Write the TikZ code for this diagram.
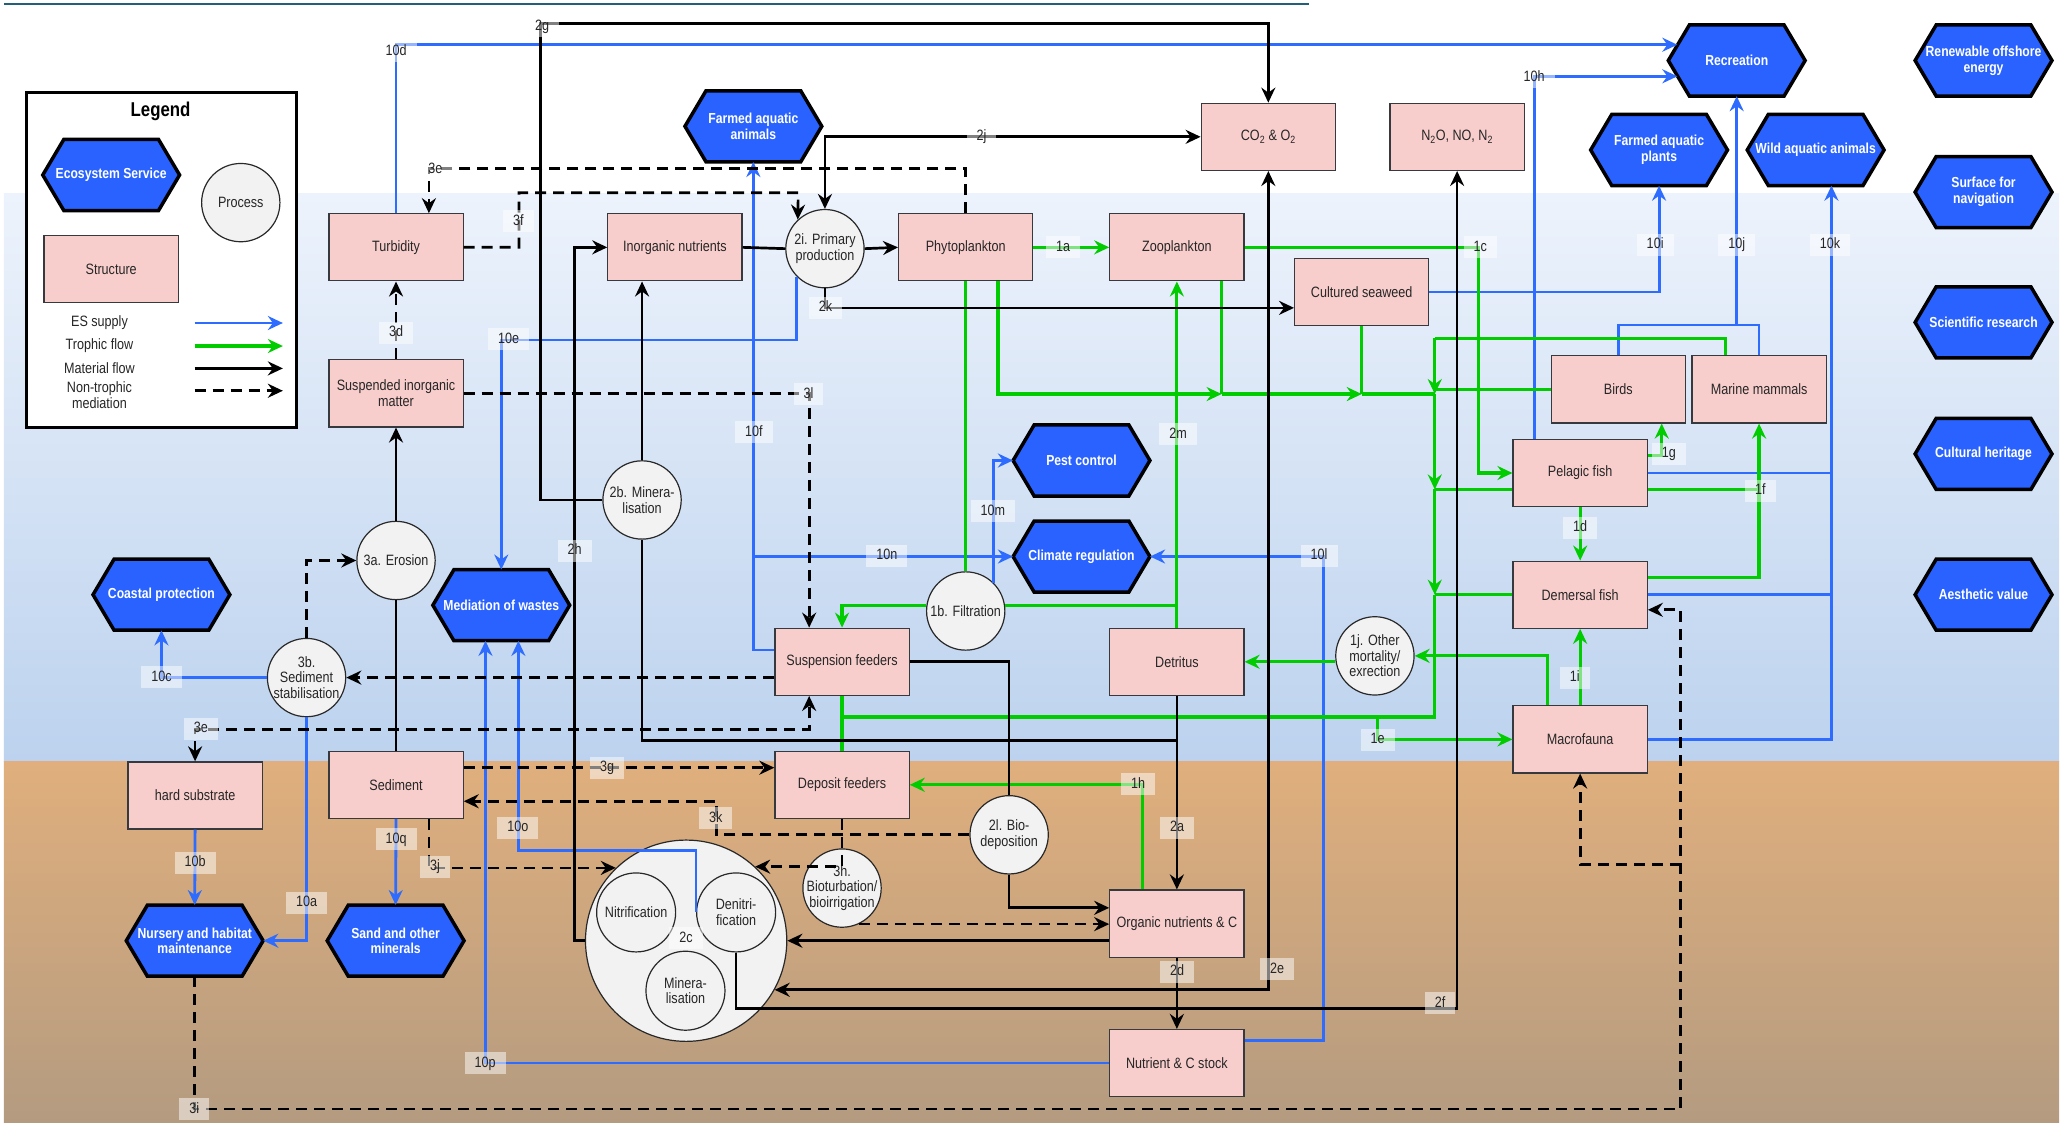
\documentclass[tikz,border=0pt]{standalone}
\usepackage{fontspec}
\setmainfont{Liberation Sans}[FakeStretch=0.84]
\usetikzlibrary{arrows.meta,calc}

\definecolor{esblue}{RGB}{41,98,255}
\definecolor{esline}{RGB}{45,108,255}
\definecolor{trgreen}{RGB}{0,204,0}
\definecolor{boxpink}{RGB}{248,206,204}
\definecolor{boxedge}{RGB}{54,57,61}
\definecolor{procfill}{RGB}{242,242,242}
\definecolor{procedge}{RGB}{40,40,40}
\definecolor{watertop}{RGB}{237,243,252}
\definecolor{waterbot}{RGB}{188,210,238}
\definecolor{sedtop}{RGB}{224,175,125}
\definecolor{sedbot}{RGB}{180,155,128}
\definecolor{toprule}{RGB}{35,95,120}

\newcommand\diagfont{\fontsize{15pt}{15.7pt}\selectfont}
\newcommand\eshexfont{\fontsize{14.5pt}{15.7pt}\selectfont\bfseries}

% ecosystem-service hexagon: name, x, y, text
\newcommand\eshexagon[4]{%
  \path[hexfill] (#2-52,#3) -- (#2-36,#3-27) -- (#2+36,#3-27) -- (#2+52,#3)
    -- (#2+36,#3+27) -- (#2-36,#3+27) -- cycle;
  \node[hextext] (#1) at (#2,#3) {#4};}

\tikzset{
  >={Stealth[length=15pt,width=14pt,inset=5pt]},
  txt/.style={font=\diagfont, text=black!85},
  struct/.style={txt, draw=boxedge, line width=1.2pt, fill=boxpink,
    minimum width=134.2pt, minimum height=67.1pt, inner sep=1pt, align=center},
  proc/.style={txt, circle, draw=procedge, line width=1.2pt, fill=procfill,
    minimum size=78.3pt, inner sep=-6pt, align=center},
  hextext/.style={font=\eshexfont, text=white, minimum width=136.8pt,
    minimum height=71pt, inner sep=0pt, align=center},
  hexfill/.style={fill=esblue, draw=black, line width=3.5pt, line join=miter},
  es/.style={draw=esline, line width=2.8pt, ->},
  tro/.style={draw=trgreen, line width=3.2pt, ->},
  mat/.style={draw=black, line width=2.7pt, ->},
  ntm/.style={draw=black, line width=2.7pt, dash pattern=on 11pt off 7pt, ->},
  lbl/.style={txt, fill=white, fill opacity=0.5, text opacity=1,
    inner xsep=10pt, inner ysep=4pt, text height=11pt, text depth=3pt},
}

\begin{document}
\begin{tikzpicture}[x=1.3157pt, y=-1.3157pt]
\useasboundingbox (0,0) rectangle (1568,855);
\fill[white] (0,0) rectangle (1568,855);

% water column and seabed
\shade[top color=watertop, bottom color=waterbot] (3,147) rectangle (1565,579);
\shade[top color=sedtop, bottom color=sedbot] (3,579) rectangle (1565,853);
\draw[toprule, line width=1.6pt] (3,3) -- (995,3);

% ---------------- legend ----------------
\node[draw=black, line width=3pt, fill=white, minimum width=269.7pt,
      minimum height=335.5pt] (legend) at (122.5,197.5) {};
\node[font=\fontsize{20pt}{22pt}\selectfont\bfseries] (legtitle) at (122,85) {Legend};
\eshexagon{legES}{84.5}{133}{Ecosystem Service}
\node[proc] (legproc) at (183,154) {Process};
\node[struct] (legstruct) at (84.5,204.5) {Structure};
\node[txt] (legt1) at (75.6,245.5) {ES supply};
\node[txt] (legt2) at (75.6,263) {Trophic flow};
\node[txt] (legt3) at (75.6,280) {Material flow};
\node[txt, align=center] (legt4) at (75.6,300.4) {Non-trophic\\mediation};
\coordinate (la1) at (148,245.5); \coordinate (lb1) at (215,245.5);
\coordinate (la2) at (148,263);   \coordinate (lb2) at (215,263);
\coordinate (la3) at (148,280);   \coordinate (lb3) at (215,280);
\coordinate (la4) at (148,297);   \coordinate (lb4) at (215,297);
\draw[es] (la1) -- (lb1);
\draw[tro] (la2) -- (lb2);
\draw[mat] (la3) -- (lb3);
\draw[ntm] (la4) -- (lb4);

% ---------------- structures ----------------
\node[struct] (turb) at (301,188) {Turbidity};
\node[struct] (sim) at (301,299) {Suspended inorganic\\matter};
\node[struct] (inorg) at (513,188) {Inorganic nutrients};
\node[struct] (phyto) at (734,188) {Phytoplankton};
\node[struct] (zoo) at (894.5,188) {Zooplankton};
\node[struct] (co2) at (964,104) {CO\textsubscript{2} \& O\textsubscript{2}};
\node[struct] (n2o) at (1107.5,104) {N\textsubscript{2}O, NO, N\textsubscript{2}};
\node[struct] (seaweed) at (1035,222) {Cultured seaweed};
\node[struct] (birds) at (1230,296) {Birds};
\node[struct] (mammals) at (1337,296) {Marine mammals};
\node[struct] (pelagic) at (1201,359.5) {Pelagic fish};
\node[struct] (demersal) at (1201,452) {Demersal fish};
\node[struct] (macro) at (1201,562) {Macrofauna};
\node[struct] (detritus) at (894.5,503) {Detritus};
\node[struct] (susp) at (640,503) {Suspension feeders};
\node[struct] (deposit) at (640,596.5) {Deposit feeders};
\node[struct] (orgnut) at (894.5,702) {Organic nutrients \& C};
\node[struct] (stock) at (894.5,808) {Nutrient \& C stock};
\node[struct] (sediment) at (301,596.5) {Sediment};
\node[struct] (hard) at (148.3,604.6) {hard substrate};

% ---------------- ecosystem services ----------------
\eshexagon{rec}{1320}{46}{Recreation}
\eshexagon{renew}{1507.6}{46}{Renewable offshore\\energy}
\eshexagon{fplants}{1261}{114}{Farmed aquatic\\plants}
\eshexagon{wild}{1380}{114}{Wild aquatic animals}
\eshexagon{navig}{1507.6}{146}{Surface for\\navigation}
\eshexagon{science}{1507.6}{245}{Scientific research}
\eshexagon{culture}{1507.6}{345}{Cultural heritage}
\eshexagon{aesth}{1507.6}{452}{Aesthetic value}
\eshexagon{fanimals}{572.6}{96}{Farmed aquatic\\animals}
\eshexagon{pest}{822}{350}{Pest control}
\eshexagon{climate}{822}{423}{Climate regulation}
\eshexagon{wastes}{381}{460}{Mediation of wastes}
\eshexagon{coastal}{122.7}{452}{Coastal protection}
\eshexagon{nursery}{148}{715}{Nursery and habitat\\maintenance}
\eshexagon{sand}{300.7}{715}{Sand and other\\minerals}

% ---------------- processes ----------------
\node[proc] (pp) at (627,189) {2i. Primary\\production};
\node[proc] (erosion) at (301,426) {3a. Erosion};
\node[proc] (min2b) at (488,380) {2b. Minera-\\lisation};
\node[proc] (sedstab) at (233,515) {3b.\\Sediment\\stabilisation};
\node[proc] (filt) at (734,464.4) {1b. Filtration};
\node[proc] (mort) at (1045,498.5) {1j. Other\\mortality/\\exrection};
\node[proc] (biodep) at (767,634.5) {2l. Bio-\\deposition};
\node[proc] (biot) at (640,675) {3h.\\Bioturbation/\\bioirrigation};
\node[proc, minimum size=201.3pt] (bigc) at (521.5,715) {};
\node[proc, minimum size=79pt] (nitr) at (483.5,693.5) {Nitrification};
\node[proc, minimum size=79pt] (denit) at (559.5,693.5) {Denitri-\\fication};
\node[proc, minimum size=79pt] (minin) at (521,753) {Minera-\\lisation};

% ---------------- ES supply ----------------
\coordinate (j10) at (1320,247.5);
\coordinate (k10) at (1392,562);
\coordinate (n10) at (572.6,423);
\draw[es] (turb.north) |- ($(rec.west)+(7,-12)$);
\draw[es] ($(pelagic.north)+(-35,0)$) |- ($(rec.west)+(7,12)$);
\draw[es] (seaweed.east) -| (fplants.south);
\draw[es,-] (birds.north) -- ++(0,-23) -| (mammals.north);
\draw[es] (j10) -- (rec.south);
\draw[es] (macro.east) -| ($(wild.south)+(12,0)$);
\draw[es,-] (pelagic.east) -- (pelagic.east -| k10);
\draw[es,-] (demersal.east) -- (demersal.east -| k10);
\draw[es] (pp.225) -- ++(0,48) -| (wastes.north);
\draw[es] ($(susp.west)+(0,-9)$) -| (fanimals.south);
\draw[es] (n10) -- (climate.west);
\draw[es] (filt.45) |- (pest.west);
\draw[es] ($(stock.east)+(0,-17)$) -- ++(60,0) |- (climate.east);
\draw[es] (sedstab.west) -| (coastal.south);
\draw[es] (sedstab.south) |- (nursery.east);
\draw[es] (hard.south) -- (nursery.north);
\draw[es] (sediment.south) -- (sand.north);
\draw[es] (denit.west) -- ++(0,-47) -| ($(wastes.south)+(13,0)$);
\draw[es] (stock.west) -| ($(wastes.south)+(-12,0)$);

% ---------------- trophic flows ----------------
\coordinate (gz) at (928.5,299.5);
\coordinate (gs) at (1035,299.5);
\coordinate (gtop) at (1090.5,257);
\coordinate (g299) at (1090.5,299.5);
\coordinate (g372) at (1090.5,372);
\coordinate (g452) at (1090.5,452);
\coordinate (gbot) at (1090.5,545);
\coordinate (g1e) at (1047,545);
\coordinate (f1) at ($(filt.east)+(0,-4)$);
\coordinate (f1b) at ($(filt.west)+(0,-4)$);
\draw[tro] (phyto.east) -- (zoo.west);
\draw[tro] (zoo.east) -- ++(178,0) |- (pelagic.west);
\draw[tro,-] (phyto.south) -- (filt.north);
\draw[tro] ($(phyto.south)+(24.5,0)$) |- (gz);
\draw[tro,-] ($(zoo.south)+(34,0)$) -- (gz);
\draw[tro] (gz) -- (gs);
\draw[tro,-] (seaweed.south) -- (gs);
\draw[tro,-] (gs) -- (g299);
\draw[tro,-] ($(mammals.north)+(-25.5,0)$) |- (gtop);
\draw[tro] (gtop) -- (g299);
\draw[tro,-] (birds.west) -- (birds.west -| gtop);
\draw[tro] (g299) -- (g372);
\draw[tro,-] ($(pelagic.west)+(0,12.5)$) -- (g372);
\draw[tro] (g372) -- (g452);
\draw[tro,-] (demersal.west) -- (g452);
\draw[tro,-] (g452) -- (gbot) -| (susp.south);
\draw[tro,-] (susp.south) -- (deposit.north);
\draw[tro] (g1e) |- (macro.west);
\draw[tro] (detritus.north) -- (zoo.south);
\draw[tro,-] (f1) -- (f1 -| detritus.north);
\draw[tro] (f1b) -| (susp.north);
\draw[tro] ($(orgnut.north)+(-26,0)$) |- (deposit.east);
\draw[tro] ($(macro.north)+(-25,0)$) |- (mort.east);
\draw[tro] (mort.west |- detritus.east) -- (detritus.east);
\draw[tro] (macro.north) -- (demersal.south);
\draw[tro] (pelagic.south) -- (demersal.north);
\draw[tro] ($(demersal.east)+(0,-13)$) -| (mammals.south);
\draw[tro,-] ($(pelagic.east)+(0,12.5)$) -- ++(85,0);
\draw[tro] ($(pelagic.east)+(0,-13)$) -| ($(birds.south)+(33,0)$);

% ---------------- material flows ----------------
\draw[mat] (min2b.west) -- ++(-47,0) |- ($(co2.north)+(0,-60)$) -- (co2.north);
\draw[mat,<->] (pp.north) |- (co2.west);
\draw[mat,-] (inorg.east) -- (pp.west);
\draw[mat] (pp.east) -- (phyto.west);
\draw[mat] (pp.south) |- ($(seaweed.west)+(0,12)$);
\draw[mat] (bigc.west) -- ++(-8,0) |- (inorg.west);
\draw[mat] (min2b.north) -- (min2b.north |- inorg.south);
\draw[mat,-] (detritus.south) -- ++(0,34) -| (min2b.south);
\draw[mat] (detritus.south) -- (orgnut.north);
\draw[mat,-] (susp.east) -| (biodep.north);
\draw[mat] (biodep.south) |- ($(orgnut.west)+(0,-12)$);
\draw[mat] (orgnut.west |- bigc.east) -- (bigc.east);
\draw[mat,<->] (bigc.-29.3) -| (co2.south);
\draw[mat] (denit.south) -- ++(0,42.5) -| (n2o.south);
\draw[mat] (orgnut.south) -- (stock.north);
\draw[mat,-] (sediment.north) -- (erosion.south);
\draw[mat] (erosion.north) -- (sim.south);

% ---------------- non-trophic mediation ----------------
\coordinate (f3) at (606.7,146.5);
\coordinate (b3h) at (biot.-65);
\coordinate (i3) at (1277.5,843);
\coordinate (i3b) at (1277.5,657);
\draw[ntm] (sim.north) -- (turb.south);
\draw[ntm] (phyto.north) -- ++(0,-34) -| ($(turb.north)+(25,0)$);
\draw[ntm] (turb.east) -- ++(42,0) |- (f3) -- (pp.133);
\draw[ntm] (sim.east) -| ($(susp.north)+(-25,0)$);
\draw[ntm] ($(susp.west)+(0,12)$) -- (sedstab.east);
\draw[ntm] (sedstab.north) |- (erosion.west);
\draw[ntm,<->] (hard.north) |- ($(susp.south)+(-25,25.5)$) -- ($(susp.south)+(-25,0)$);
\draw[ntm] ($(sediment.east)+(0,-13)$) -- ($(deposit.west)+(0,-13)$);
\draw[ntm] (biodep.west) -- ++(-192,0) |- ($(sediment.east)+(0,12.5)$);
\draw[ntm] (deposit.south) |- (bigc.47);
\draw[ntm] (b3h) -- (b3h -| orgnut.west);
\draw[ntm] ($(sediment.south)+(25,0)$) |- (bigc.134);
\draw[ntm] (nursery.south) |- (i3) |- ($(demersal.east)+(0,11.5)$);
\draw[ntm] (i3b) -| (macro.south);

% ---------------- flow labels ----------------
\node[lbl] (l2g) at (412,20) {2g};
\node[lbl] (l10d) at (301,39) {10d};
\node[lbl] (l3c) at (331,129) {3e};
\node[lbl] (l3f) at (394,168) {3f};
\node[lbl] (l2j) at (746,104) {2j};
\node[lbl] (l3d) at (301,253) {3d};
\node[lbl] (l10e) at (386.6,258) {10e};
\node[lbl] (l2k) at (627.4,234) {2k};
\node[lbl] (l3l) at (614.5,299.5) {3l};
\node[lbl] (l10f) at (573,328.5) {10f};
\node[lbl] (l2h) at (436.7,418.5) {2h};
\node[lbl] (l10n) at (674,422.3) {10n};
\node[lbl] (l10m) at (754.6,388.4) {10m};
\node[lbl] (l2m) at (895.4,330) {2m};
\node[lbl] (l1a) at (808,188) {1a};
\node[lbl] (l1c) at (1125,188) {1c};
\node[lbl] (l10h) at (1166,58.9) {10h};
\node[lbl] (l10i) at (1258,186) {10i};
\node[lbl] (l10j) at (1320,186) {10j};
\node[lbl] (l10k) at (1391,186) {10k};
\node[lbl] (l1g) at (1268.5,345) {1g};
\node[lbl] (l1f) at (1338,373) {1f};
\node[lbl] (l1d) at (1201,401) {1d};
\node[lbl] (l10l) at (1002.6,422.3) {10l};
\node[lbl] (l1i) at (1197,515) {1i};
\node[lbl] (l1e) at (1047,562.4) {1e};
\node[lbl] (l10c) at (122.8,514.6) {10c};
\node[lbl] (l3e) at (152.7,554) {3e};
\node[lbl] (l3g) at (461.4,583.5) {3g};
\node[lbl] (l3k) at (544,621.8) {3k};
\node[lbl] (l1h) at (865,596) {1h};
\node[lbl] (l2a) at (894.6,629) {2a};
\node[lbl] (l10o) at (393.6,629) {10o};
\node[lbl] (l10q) at (301,637.7) {10q};
\node[lbl] (l3j) at (330.7,658.7) {3j};
\node[lbl] (l10b) at (148.3,655.7) {10b};
\node[lbl] (l10a) at (233,686) {10a};
\node[lbl] (l2d) at (894.6,738.5) {2d};
\node[lbl] (l2e) at (970.6,736.5) {2e};
\node[lbl] (l2f) at (1094.6,762.5) {2f};
\node[lbl] (l10p) at (368.8,808) {10p};
\node[lbl] (l3i) at (147.7,843) {3i};
\node[lbl] (l2c) at (521.4,713) {2c};
\end{tikzpicture}
\end{document}
